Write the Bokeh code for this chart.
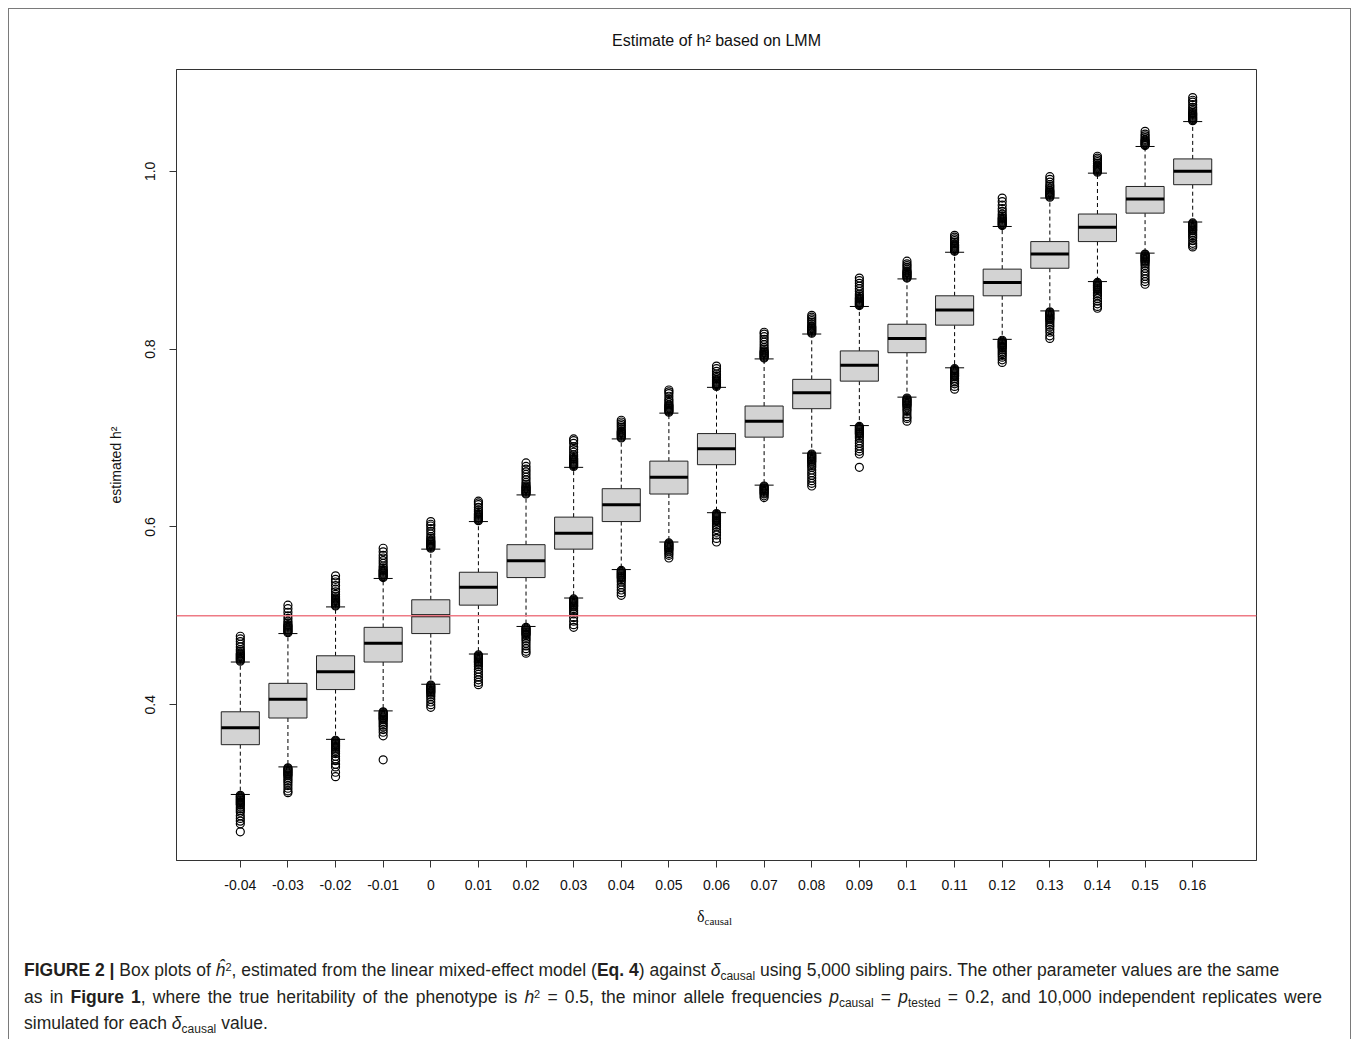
import numpy as np
from bokeh.plotting import figure
from bokeh.models import Range1d, FixedTicker, Span, Div
from bokeh.layouts import column
from bokeh.embed import file_html
from bokeh.resources import INLINE

# ---------------- data ----------------
categories = ["-0.04", "-0.03", "-0.02", "-0.01", "0", "0.01", "0.02", "0.03", "0.04", "0.05",
              "0.06", "0.07", "0.08", "0.09", "0.1", "0.11", "0.12", "0.13", "0.14", "0.15", "0.16"]

q1 = [0.355, 0.385, 0.417, 0.448, 0.480, 0.512, 0.543, 0.575, 0.606, 0.637, 0.670,
      0.701, 0.733, 0.764, 0.796, 0.827, 0.860, 0.891, 0.921, 0.953, 0.985]
median = [0.374, 0.406, 0.437, 0.469, 0.500, 0.532, 0.562, 0.593, 0.625, 0.656, 0.688,
          0.719, 0.751, 0.782, 0.812, 0.844, 0.875, 0.907, 0.937, 0.969, 1.000]
q3 = [0.392, 0.424, 0.455, 0.487, 0.518, 0.549, 0.580, 0.611, 0.643, 0.674, 0.705,
      0.736, 0.766, 0.798, 0.828, 0.860, 0.890, 0.921, 0.952, 0.983, 1.014]
whisker_low = [0.299, 0.330, 0.361, 0.393, 0.423, 0.457, 0.488, 0.520, 0.552, 0.583, 0.616,
               0.647, 0.683, 0.714, 0.746, 0.779, 0.811, 0.843, 0.876, 0.908, 0.943]
whisker_high = [0.448, 0.480, 0.510, 0.542, 0.575, 0.606, 0.636, 0.667, 0.699, 0.728, 0.757,
                0.789, 0.817, 0.848, 0.879, 0.909, 0.938, 0.970, 0.998, 1.028, 1.056]

upper_outliers = [
    [0.449, 0.450, 0.451, 0.452, 0.453, 0.454, 0.455, 0.456, 0.457, 0.458, 0.460, 0.462, 0.465, 0.468, 0.471, 0.474, 0.477],
    [0.481, 0.482, 0.483, 0.484, 0.485, 0.486, 0.487, 0.488, 0.489, 0.490, 0.492, 0.494, 0.497, 0.500, 0.504, 0.508, 0.512],
    [0.511, 0.512, 0.513, 0.514, 0.515, 0.516, 0.517, 0.518, 0.519, 0.520, 0.522, 0.524, 0.527, 0.530, 0.534, 0.538, 0.541, 0.545],
    [0.543, 0.544, 0.545, 0.546, 0.547, 0.548, 0.549, 0.550, 0.551, 0.552, 0.554, 0.556, 0.559, 0.562, 0.565, 0.568, 0.572, 0.576],
    [0.576, 0.577, 0.578, 0.579, 0.580, 0.581, 0.582, 0.583, 0.584, 0.585, 0.587, 0.589, 0.592, 0.595, 0.598, 0.601, 0.603, 0.606],
    [0.607, 0.608, 0.609, 0.610, 0.611, 0.612, 0.613, 0.614, 0.615, 0.617, 0.619, 0.622, 0.625, 0.627, 0.629],
    [0.637, 0.638, 0.639, 0.640, 0.641, 0.642, 0.643, 0.644, 0.645, 0.646, 0.648, 0.650, 0.653, 0.656, 0.659, 0.662, 0.665, 0.668, 0.672],
    [0.668, 0.669, 0.670, 0.671, 0.672, 0.673, 0.674, 0.675, 0.676, 0.677, 0.679, 0.681, 0.684, 0.687, 0.690, 0.694, 0.697, 0.699],
    [0.700, 0.701, 0.702, 0.703, 0.704, 0.705, 0.706, 0.707, 0.708, 0.710, 0.712, 0.714, 0.716, 0.718, 0.720],
    [0.729, 0.730, 0.731, 0.732, 0.733, 0.734, 0.735, 0.736, 0.737, 0.738, 0.740, 0.742, 0.744, 0.747, 0.750, 0.752, 0.754],
    [0.758, 0.759, 0.760, 0.761, 0.762, 0.763, 0.764, 0.765, 0.766, 0.768, 0.770, 0.772, 0.775, 0.778, 0.781],
    [0.790, 0.791, 0.792, 0.793, 0.794, 0.795, 0.796, 0.797, 0.798, 0.800, 0.802, 0.805, 0.808, 0.811, 0.814, 0.817, 0.819],
    [0.818, 0.819, 0.820, 0.821, 0.822, 0.823, 0.824, 0.825, 0.826, 0.828, 0.830, 0.832, 0.834, 0.836, 0.838],
    [0.849, 0.850, 0.851, 0.852, 0.853, 0.854, 0.855, 0.856, 0.857, 0.858, 0.860, 0.862, 0.865, 0.868, 0.871, 0.874, 0.877, 0.880],
    [0.880, 0.881, 0.882, 0.883, 0.884, 0.885, 0.886, 0.887, 0.888, 0.890, 0.892, 0.894, 0.896, 0.899],
    [0.910, 0.911, 0.912, 0.913, 0.914, 0.915, 0.916, 0.917, 0.918, 0.920, 0.922, 0.924, 0.926, 0.928],
    [0.939, 0.940, 0.941, 0.942, 0.943, 0.944, 0.945, 0.946, 0.947, 0.948, 0.950, 0.952, 0.955, 0.958, 0.962, 0.966, 0.970],
    [0.971, 0.972, 0.973, 0.974, 0.975, 0.976, 0.977, 0.978, 0.979, 0.981, 0.983, 0.985, 0.988, 0.991, 0.994],
    [0.999, 1.000, 1.001, 1.002, 1.003, 1.004, 1.005, 1.006, 1.007, 1.009, 1.011, 1.013, 1.015, 1.017],
    [1.029, 1.030, 1.031, 1.032, 1.033, 1.034, 1.035, 1.036, 1.038, 1.040, 1.042, 1.045],
    [1.057, 1.058, 1.059, 1.060, 1.061, 1.062, 1.063, 1.064, 1.065, 1.066, 1.068, 1.070, 1.072, 1.075, 1.078, 1.080, 1.083],
]
lower_outliers = [
    [0.298, 0.297, 0.296, 0.295, 0.294, 0.293, 0.292, 0.291, 0.290, 0.289, 0.288, 0.287, 0.285, 0.283, 0.281, 0.279, 0.275, 0.272, 0.269, 0.266, 0.257],
    [0.329, 0.328, 0.327, 0.326, 0.325, 0.324, 0.323, 0.322, 0.321, 0.320, 0.318, 0.316, 0.314, 0.312, 0.309, 0.306, 0.303, 0.301],
    [0.360, 0.359, 0.358, 0.357, 0.356, 0.355, 0.354, 0.353, 0.352, 0.351, 0.349, 0.347, 0.345, 0.342, 0.339, 0.337, 0.333, 0.330, 0.324, 0.319],
    [0.392, 0.391, 0.390, 0.389, 0.388, 0.387, 0.386, 0.385, 0.384, 0.383, 0.381, 0.379, 0.377, 0.375, 0.372, 0.369, 0.365, 0.338],
    [0.422, 0.421, 0.420, 0.419, 0.418, 0.417, 0.416, 0.415, 0.414, 0.413, 0.411, 0.409, 0.406, 0.403, 0.400, 0.397],
    [0.456, 0.455, 0.454, 0.453, 0.452, 0.451, 0.450, 0.449, 0.448, 0.447, 0.445, 0.443, 0.440, 0.437, 0.434, 0.431, 0.428, 0.425, 0.4225],
    [0.487, 0.486, 0.485, 0.484, 0.483, 0.482, 0.481, 0.480, 0.479, 0.478, 0.476, 0.474, 0.472, 0.469, 0.466, 0.463, 0.460, 0.458],
    [0.519, 0.518, 0.517, 0.516, 0.515, 0.514, 0.513, 0.512, 0.511, 0.510, 0.508, 0.506, 0.504, 0.502, 0.498, 0.494, 0.490, 0.487],
    [0.551, 0.550, 0.549, 0.548, 0.547, 0.546, 0.545, 0.544, 0.543, 0.542, 0.540, 0.538, 0.535, 0.532, 0.529, 0.526, 0.523],
    [0.582, 0.581, 0.580, 0.579, 0.578, 0.577, 0.576, 0.575, 0.574, 0.572, 0.570, 0.568, 0.565],
    [0.615, 0.614, 0.613, 0.612, 0.611, 0.610, 0.609, 0.608, 0.607, 0.606, 0.604, 0.602, 0.600, 0.597, 0.594, 0.591, 0.587, 0.583],
    [0.646, 0.645, 0.644, 0.643, 0.642, 0.641, 0.640, 0.639, 0.638, 0.637, 0.635, 0.633],
    [0.682, 0.681, 0.680, 0.679, 0.678, 0.677, 0.676, 0.675, 0.674, 0.673, 0.671, 0.669, 0.667, 0.664, 0.661, 0.658, 0.655, 0.652, 0.649, 0.646],
    [0.713, 0.712, 0.711, 0.710, 0.709, 0.708, 0.707, 0.706, 0.705, 0.704, 0.702, 0.700, 0.697, 0.694, 0.691, 0.688, 0.685, 0.682, 0.667],
    [0.745, 0.744, 0.743, 0.742, 0.741, 0.740, 0.739, 0.738, 0.737, 0.736, 0.734, 0.732, 0.730, 0.727, 0.724, 0.722, 0.719],
    [0.778, 0.777, 0.776, 0.775, 0.774, 0.773, 0.772, 0.771, 0.770, 0.769, 0.767, 0.765, 0.763, 0.761, 0.758, 0.755],
    [0.810, 0.809, 0.808, 0.807, 0.806, 0.805, 0.804, 0.803, 0.802, 0.801, 0.799, 0.797, 0.795, 0.793, 0.791, 0.788, 0.785],
    [0.842, 0.841, 0.840, 0.839, 0.838, 0.837, 0.836, 0.835, 0.834, 0.833, 0.831, 0.829, 0.827, 0.825, 0.822, 0.819, 0.815, 0.812],
    [0.875, 0.874, 0.873, 0.872, 0.871, 0.870, 0.869, 0.868, 0.867, 0.866, 0.864, 0.862, 0.860, 0.857, 0.854, 0.851, 0.848, 0.846],
    [0.907, 0.906, 0.905, 0.904, 0.903, 0.902, 0.901, 0.900, 0.899, 0.898, 0.896, 0.894, 0.891, 0.888, 0.885, 0.882, 0.879, 0.876, 0.873],
    [0.942, 0.941, 0.940, 0.939, 0.938, 0.937, 0.936, 0.935, 0.934, 0.933, 0.931, 0.929, 0.927, 0.925, 0.922, 0.919, 0.917, 0.915],
]
true_h2 = 0.5
y_ticks = [0.4, 0.6, 0.8, 1.0]
y_tick_labels = ["0.4", "0.6", "0.8", "1.0"]

# ---------------- figure ----------------
pos = np.arange(1, len(categories) + 1)
FONT = "Liberation Sans"
AX = "#333333"
W = 1341

p = figure(width=W, height=891, output_backend="svg", toolbar_location=None,
           x_range=Range1d(-0.34, 22.34), y_range=Range1d(0.2247, 1.1146),
           min_border_left=167, min_border_right=W - 167 - 1080, min_border_top=59, min_border_bottom=40,
           title="Estimate of h² based on LMM")
p.title.align = "center"
p.title.text_font = FONT
p.title.text_font_size = "16px"
p.title.text_font_style = "normal"
p.title.text_color = "#111111"
p.title.standoff = 41
p.background_fill_color = "white"
p.border_fill_color = "white"
p.grid.visible = False
p.outline_line_color = AX
p.outline_line_width = 1

for ax in (p.xaxis[0], p.yaxis[0]):
    ax.axis_line_color = AX
    ax.major_tick_line_color = AX
    ax.minor_tick_line_color = None
    ax.major_tick_in = 0
    ax.major_tick_out = 7
    ax.major_label_text_font = FONT
    ax.major_label_text_font_size = "14px"
    ax.major_label_text_color = "#111111"

p.xaxis.ticker = FixedTicker(ticks=list(pos))
p.xaxis.major_label_overrides = {int(i): c for i, c in zip(pos, categories)}
p.xaxis.major_label_standoff = 12
p.yaxis.ticker = FixedTicker(ticks=y_ticks)
p.yaxis.major_label_overrides = dict(zip(y_ticks, y_tick_labels))
p.yaxis.major_label_orientation = "vertical"
p.yaxis.major_label_standoff = 14
p.yaxis.axis_label = "estimated h²"
p.yaxis.axis_label_text_font = FONT
p.yaxis.axis_label_text_font_size = "14px"
p.yaxis.axis_label_text_font_style = "normal"
p.yaxis.axis_label_text_color = "#111111"
p.yaxis.axis_label_standoff = 19

# whiskers (dashed)
p.segment(x0=pos, y0=q3, x1=pos, y1=whisker_high, line_color="black", line_width=1, line_dash="4 3")
p.segment(x0=pos, y0=q1, x1=pos, y1=whisker_low, line_color="black", line_width=1, line_dash="4 3")
# staples
p.segment(x0=pos - 0.2, y0=whisker_high, x1=pos + 0.2, y1=whisker_high, line_color="black", line_width=1)
p.segment(x0=pos - 0.2, y0=whisker_low, x1=pos + 0.2, y1=whisker_low, line_color="black", line_width=1)
# boxes
p.vbar(x=pos, width=0.8, bottom=q1, top=q3, fill_color="#d3d3d3", line_color="#222222", line_width=1)
# medians
p.segment(x0=pos - 0.4, y0=median, x1=pos + 0.4, y1=median, line_color="black", line_width=3)

# outliers
ox, oy = [], []
for i, (u, l) in enumerate(zip(upper_outliers, lower_outliers)):
    for v in u + l:
        ox.append(pos[i])
        oy.append(v)
p.scatter(x=ox, y=oy, marker="circle", size=8, fill_color=None, line_color="black", line_width=1.2)

# true heritability line
p.add_layout(Span(location=true_h2, dimension="width", line_color="#ee7a85", line_width=1.5))

# ---------------- x-axis label and caption (HTML text below the plot) ----------------
SUP = "<span style='position:relative;top:-0.5em;font-size:11px;line-height:0'>{}</span>"
SUB = "<span style='position:relative;top:0.3em;font-size:12px;line-height:0'>{}</span>"
LINE = ("<div style=\"position:absolute;left:10px;top:{top}px;white-space:nowrap;line-height:22px;"
        "word-spacing:{ws}px\">{txt}</div>")

line1 = ("<b>FIGURE 2 |</b> Box plots of <i>ĥ</i>" + SUP.format("2") +
         ", estimated from the linear mixed-effect model (<b>Eq. 4</b>) against <i>δ</i>" +
         SUB.format("causal") + " using 5,000 sibling pairs. The other parameter values are the same")
line2 = ("as in <b>Figure 1</b>, where the true heritability of the phenotype is <i>h</i>" + SUP.format("2") +
         " = 0.5, the minor allele frequencies <i>p</i>" + SUB.format("causal") + " = <i>p</i>" +
         SUB.format("tested") + " = 0.2, and 10,000 independent replicates were")
line3 = "simulated for each <i>δ</i>" + SUB.format("causal") + " value."

caption_html = (
    "<div style=\"position:relative;width:1331px;height:134px;font-family:'Liberation Sans',Arial,sans-serif;"
    "font-size:17.5px;color:#231f20\">"
    "<div style=\"position:absolute;left:683px;top:1px;white-space:nowrap;line-height:20px;"
    "font-family:'Liberation Serif',serif;color:#111111\">"
    "<span style='font-size:16px'>δ</span>"
    "<span style='position:relative;top:0.3em;font-size:11px;line-height:0'>causal</span></div>"
    + LINE.format(top=54, ws=0, txt=line1)
    + LINE.format(top=81, ws=2.3, txt=line2)
    + LINE.format(top=107, ws=0, txt=line3)
    + "</div>"
)
cap = Div(text=caption_html, width=W, height=139)

layout = column(p, cap, width=W,
                styles={"border": "1px solid #7a7a7a", "margin-left": "8px", "margin-top": "8px",
                        "width": f"{W}px", "box-sizing": "content-box"})

open("out.html", "w").write(file_html(layout, INLINE))
